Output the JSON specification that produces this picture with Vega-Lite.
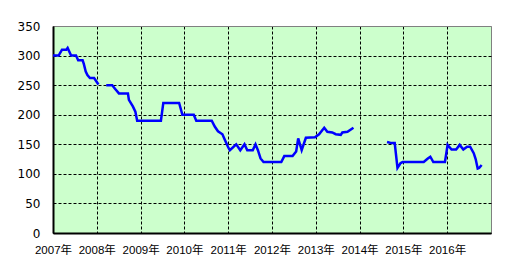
{
  "$schema": "https://vega.github.io/schema/vega-lite/v6.json",
  "autosize": {"type": "none"},
  "width": 438,
  "height": 207,
  "padding": {"left": 53, "top": 26, "right": 15, "bottom": 42},
  "background": "white",
  "config": {
    "view": {"fill": "#CCFFCC", "stroke": "#808080", "strokeWidth": 1}
  },
  "data": {
    "values": [
      {"date": "2007-01-01", "value": 300, "seg": 1},
      {"date": "2007-02-17", "value": 300, "seg": 1},
      {"date": "2007-03-17", "value": 310, "seg": 1},
      {"date": "2007-04-22", "value": 310, "seg": 1},
      {"date": "2007-05-03", "value": 313, "seg": 1},
      {"date": "2007-06-01", "value": 300, "seg": 1},
      {"date": "2007-07-12", "value": 300, "seg": 1},
      {"date": "2007-07-30", "value": 292, "seg": 1},
      {"date": "2007-09-05", "value": 292, "seg": 1},
      {"date": "2007-09-15", "value": 286, "seg": 1},
      {"date": "2007-10-01", "value": 273, "seg": 1},
      {"date": "2007-10-15", "value": 267, "seg": 1},
      {"date": "2007-11-05", "value": 262, "seg": 1},
      {"date": "2007-12-10", "value": 262, "seg": 1},
      {"date": "2008-01-15", "value": 251, "seg": 1},
      {"date": "2008-03-20", "value": 250, "seg": 2},
      {"date": "2008-05-09", "value": 250, "seg": 2},
      {"date": "2008-06-01", "value": 244, "seg": 2},
      {"date": "2008-07-04", "value": 236, "seg": 2},
      {"date": "2008-09-17", "value": 236, "seg": 2},
      {"date": "2008-09-25", "value": 225, "seg": 2},
      {"date": "2008-10-28", "value": 214, "seg": 2},
      {"date": "2008-11-18", "value": 205, "seg": 2},
      {"date": "2008-12-03", "value": 190, "seg": 2},
      {"date": "2009-06-19", "value": 190, "seg": 2},
      {"date": "2009-07-09", "value": 220, "seg": 2},
      {"date": "2009-11-18", "value": 220, "seg": 2},
      {"date": "2009-12-15", "value": 200, "seg": 2},
      {"date": "2010-03-20", "value": 200, "seg": 2},
      {"date": "2010-04-10", "value": 190, "seg": 2},
      {"date": "2010-08-17", "value": 190, "seg": 2},
      {"date": "2010-09-11", "value": 180, "seg": 2},
      {"date": "2010-10-08", "value": 172, "seg": 2},
      {"date": "2010-11-14", "value": 167, "seg": 2},
      {"date": "2010-12-03", "value": 158, "seg": 2},
      {"date": "2011-01-01", "value": 145, "seg": 2},
      {"date": "2011-01-15", "value": 140, "seg": 2},
      {"date": "2011-03-09", "value": 150, "seg": 2},
      {"date": "2011-04-12", "value": 140, "seg": 2},
      {"date": "2011-05-17", "value": 150, "seg": 2},
      {"date": "2011-06-09", "value": 140, "seg": 2},
      {"date": "2011-07-25", "value": 140, "seg": 2},
      {"date": "2011-08-17", "value": 150, "seg": 2},
      {"date": "2011-09-06", "value": 140, "seg": 2},
      {"date": "2011-09-28", "value": 126, "seg": 2},
      {"date": "2011-10-23", "value": 120, "seg": 2},
      {"date": "2012-03-19", "value": 120, "seg": 2},
      {"date": "2012-04-13", "value": 130, "seg": 2},
      {"date": "2012-06-21", "value": 130, "seg": 2},
      {"date": "2012-07-21", "value": 138, "seg": 2},
      {"date": "2012-08-07", "value": 160, "seg": 2},
      {"date": "2012-09-05", "value": 140, "seg": 2},
      {"date": "2012-10-10", "value": 161, "seg": 2},
      {"date": "2012-12-25", "value": 162, "seg": 2},
      {"date": "2013-01-28", "value": 167, "seg": 2},
      {"date": "2013-03-12", "value": 178, "seg": 2},
      {"date": "2013-04-07", "value": 171, "seg": 2},
      {"date": "2013-05-18", "value": 170, "seg": 2},
      {"date": "2013-06-16", "value": 167, "seg": 2},
      {"date": "2013-07-28", "value": 166, "seg": 2},
      {"date": "2013-08-10", "value": 170, "seg": 2},
      {"date": "2013-09-22", "value": 171, "seg": 2},
      {"date": "2013-11-11", "value": 178, "seg": 2},
      {"date": "2014-08-18", "value": 154, "seg": 3},
      {"date": "2014-09-23", "value": 152, "seg": 3},
      {"date": "2014-10-21", "value": 152, "seg": 3},
      {"date": "2014-11-13", "value": 110, "seg": 3},
      {"date": "2014-12-08", "value": 118, "seg": 3},
      {"date": "2014-12-26", "value": 120, "seg": 3},
      {"date": "2015-06-20", "value": 120, "seg": 3},
      {"date": "2015-07-24", "value": 126, "seg": 3},
      {"date": "2015-08-14", "value": 129, "seg": 3},
      {"date": "2015-09-08", "value": 120, "seg": 3},
      {"date": "2015-12-14", "value": 120, "seg": 3},
      {"date": "2016-01-05", "value": 149, "seg": 3},
      {"date": "2016-02-07", "value": 141, "seg": 3},
      {"date": "2016-03-16", "value": 141, "seg": 3},
      {"date": "2016-04-15", "value": 149, "seg": 3},
      {"date": "2016-05-15", "value": 141, "seg": 3},
      {"date": "2016-06-16", "value": 146, "seg": 3},
      {"date": "2016-07-11", "value": 146, "seg": 3},
      {"date": "2016-08-10", "value": 135, "seg": 3},
      {"date": "2016-08-26", "value": 125, "seg": 3},
      {"date": "2016-09-12", "value": 109, "seg": 3},
      {"date": "2016-09-24", "value": 110, "seg": 3},
      {"date": "2016-10-15", "value": 115, "seg": 3}
    ]
  },
  "mark": {"type": "line", "color": "#0000FF", "strokeWidth": 2.5, "clip": true},
  "encoding": {
    "x": {
      "field": "date",
      "type": "temporal",
      "scale": {"domain": ["2007-01-01", "2017-01-01"], "nice": false},
      "axis": {
        "title": null,
        "values": ["2007-01-01", "2008-01-01", "2009-01-01", "2010-01-01", "2011-01-01", "2012-01-01", "2013-01-01", "2014-01-01", "2015-01-01", "2016-01-01"],
        "format": "%Y年",
        "ticks": false,
        "domainColor": "black",
        "domainWidth": 2,
        "labelFont": "Liberation Sans, Noto Sans CJK JP",
        "labelFontSize": 11.5,
        "labelColor": "black",
        "labelPadding": 11,
        "labelFlush": false,
        "labelOverlap": false,
        "grid": true,
        "gridColor": "black",
        "gridDash": [3, 2],
        "gridWidth": 1,
        "gridOpacity": 1
      }
    },
    "y": {
      "field": "value",
      "type": "quantitative",
      "scale": {"domain": [0, 350], "nice": false, "zero": true},
      "axis": {
        "title": null,
        "values": [0, 50, 100, 150, 200, 250, 300, 350],
        "ticks": false,
        "domainColor": "black",
        "domainWidth": 2,
        "labelFont": "DejaVu Sans",
        "labelFontSize": 12,
        "labelColor": "black",
        "labelPadding": 13,
        "labelFlush": false,
        "labelOverlap": false,
        "grid": true,
        "gridColor": {"condition": {"test": "datum.value === 350", "value": "#808080"}, "value": "black"},
        "gridDash": {"condition": {"test": "datum.value === 350", "value": []}, "value": [3, 2]},
        "gridWidth": 1,
        "gridOpacity": 1
      }
    },
    "detail": {"field": "seg", "type": "nominal"}
  }
}
